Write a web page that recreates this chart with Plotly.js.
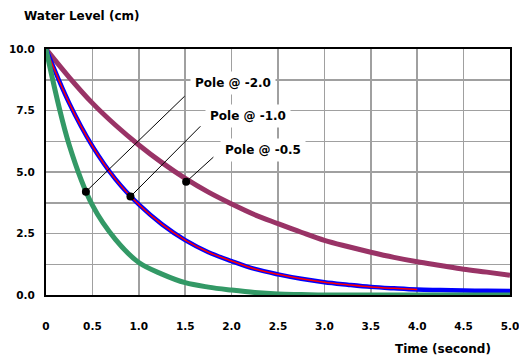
<!DOCTYPE html>
<html>
<head>
<meta charset="utf-8">
<script src="https://cdn.plot.ly/plotly-3.0.1.min.js"></script>
<style>html,body{margin:0;padding:0;background:#fff;}#chart{width:519px;height:356px;}</style>
</head>
<body>
<div id="chart"></div>
<script>
// Time (second)
const timeSec = [0,0.25,0.5,0.75,1.0,1.25,1.5,1.75,2.0,2.25,2.5,2.75,3.0,3.25,3.5,3.75,4.0,4.25,4.5,4.75,5.0];
// Water level (cm) for each pole
const poleNeg2 = [10,6.1,3.65,2.25,1.32,0.85,0.5,0.32,0.2,0.1,0.04,0.02,0,0,0,0,0,0,0,0,0];
const poleNeg1 = [10,7.8,6.05,4.7,3.68,2.87,2.23,1.74,1.38,1.06,0.84,0.66,0.52,0.42,0.33,0.27,0.22,0.2,0.18,0.17,0.16];
const poleNeg1Red = poleNeg1.slice(0,17);
const timeRed = timeSec.slice(0,17);
const poleNeg05 = [10,8.85,7.8,6.9,6.1,5.38,4.74,4.18,3.7,3.26,2.9,2.55,2.22,1.97,1.74,1.53,1.35,1.2,1.05,0.93,0.8];
// Annotation labels, marked points and line start points
const labels = ["Pole @ -2.0","Pole @ -1.0","Pole @ -0.5"];
const dotX = [0.43,0.91,1.51];
const dotY = [4.2,4.0,4.6];
const lineFromX = [1.51,1.68,1.82];
const lineFromY = [8.14,6.92,5.66];
const labelX = [2.02,2.18,2.34];
const labelY = [8.63,7.29,5.9];
const xTickVals = [0,0.5,1,1.5,2,2.5,3,3.5,4,4.5,5];
const xTickText = ["0","0.5","1.0","1.5","2.0","2.5","3.0","3.5","4.0","4.5","5.0"];
const yTickVals = [0,2.5,5,7.5,10];
const yTickText = ["0.0","2.5","5.0","7.5","10.0"];

const FONT = "DejaVu Sans, sans-serif";
const traces = [
  {x: timeSec, y: poleNeg05, mode:'lines', line:{color:'#993366', width:5, shape:'spline'}, hoverinfo:'skip'},
  {x: timeSec, y: poleNeg1, mode:'lines', line:{color:'#0000ff', width:4.5, shape:'spline'}, hoverinfo:'skip'},
  {x: timeRed, y: poleNeg1Red, mode:'lines', line:{color:'#ff0000', width:1.5, shape:'spline'}, hoverinfo:'skip'},
  {x: timeSec, y: poleNeg2, mode:'lines', line:{color:'#339966', width:5, shape:'spline'}, hoverinfo:'skip'},
  {x: dotX, y: dotY, mode:'markers', marker:{color:'#000', size:8}, hoverinfo:'skip'}
];

const annotations = [];
for (let i = 0; i < labels.length; i++) {
  annotations.push({x: dotX[i], y: dotY[i], xref:'x', yref:'y', ax: lineFromX[i], ay: lineFromY[i], axref:'x', ayref:'y',
    text:'', showarrow:true, arrowhead:0, arrowwidth:1, arrowcolor:'#000'});
  annotations.push({x: labelX[i], y: labelY[i], xref:'x', yref:'y', text: labels[i], showarrow:false,
    bgcolor:'#fff', borderpad:4, font:{family:FONT, size:12, color:'#000', weight:'bold'}});
}
annotations.push({x:-0.052, y:1.135, xref:'paper', yref:'paper', xanchor:'left', yanchor:'middle',
  text:'Water Level (cm)', showarrow:false, font:{family:FONT, size:12, color:'#000', weight:'bold'}});
annotations.push({x:0.855, y:-0.22, xref:'paper', yref:'paper', xanchor:'center', yanchor:'middle',
  text:'Time (second)', showarrow:false, font:{family:FONT, size:12, color:'#000', weight:'bold'}});

const layout = {
  width:519, height:356,
  margin:{l:46, r:9, t:49, b:61},
  paper_bgcolor:'#fff', plot_bgcolor:'#fff',
  showlegend:false,
  font:{family:FONT, size:10, color:'#000'},
  xaxis:{range:[0,5], tickvals:xTickVals, ticktext:xTickText, showgrid:true, gridcolor:'#a0a0a0', gridwidth:1.5,
    zeroline:false, showline:true, linecolor:'#000', linewidth:2, mirror:true, ticklabeloverflow:'allow',
    ticks:'outside', ticklen:20, tickcolor:'rgba(0,0,0,0)', tickfont:{family:FONT, size:10.5, weight:'bold'}},
  yaxis:{range:[0,10], tickvals:yTickVals, ticktext:yTickText, showgrid:true, gridcolor:'#a0a0a0', gridwidth:1.5,
    minor:{dtick:1.25, tick0:0, showgrid:true, gridcolor:'#a0a0a0', gridwidth:1.5},
    zeroline:false, showline:true, linecolor:'#000', linewidth:2, mirror:true, ticklabeloverflow:'allow',
    ticks:'outside', ticklen:7, tickcolor:'rgba(0,0,0,0)', tickfont:{family:FONT, size:10.5, weight:'bold'}},
  annotations: annotations
};
Plotly.newPlot('chart', traces, layout, {staticPlot:true, displayModeBar:false});
</script>
</body>
</html>
